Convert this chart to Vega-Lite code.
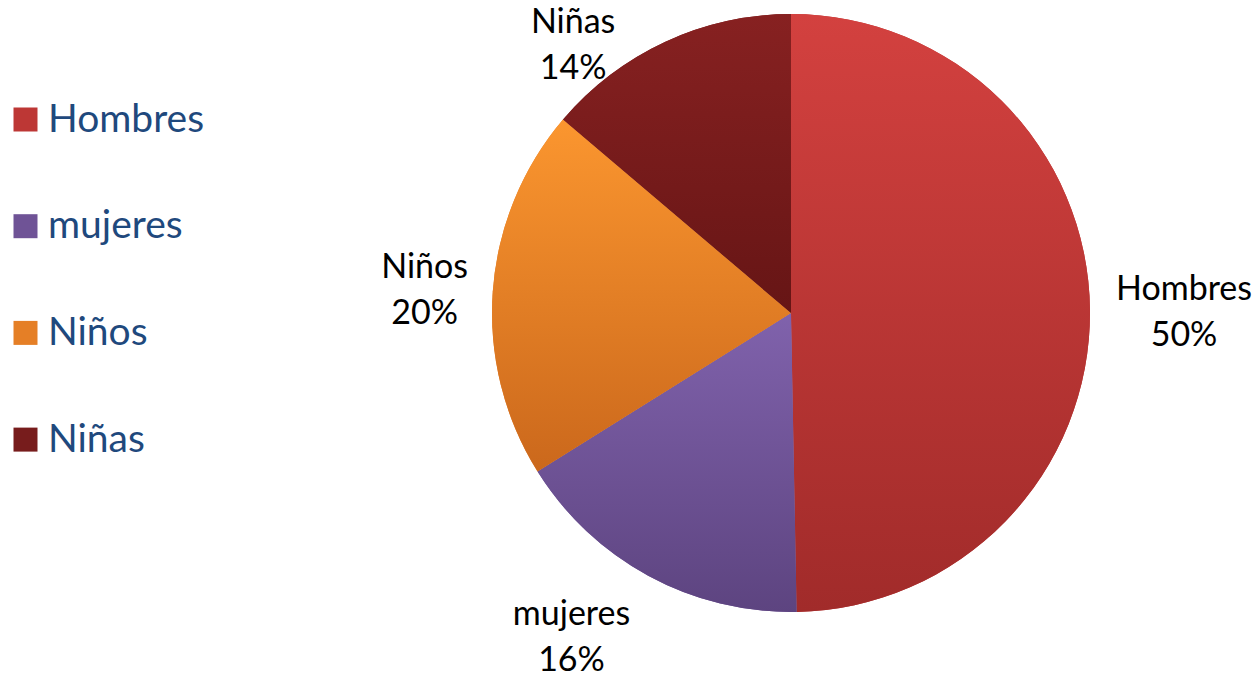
{
  "$schema": "https://vega.github.io/schema/vega-lite/v6.json",
  "width": 932,
  "height": 626,
  "autosize": "none",
  "padding": {"left": 325, "top": 0, "right": 0, "bottom": 52},
  "background": "white",
  "config": {"view": {"stroke": null}},
  "data": {
    "values": [
      {"cat": "Hombres", "value": 49.7, "rank": 1, "label": "Hombres\n50%"},
      {"cat": "mujeres", "value": 16.4, "rank": 2, "label": "mujeres\n16%"},
      {"cat": "Niños", "value": 20.1, "rank": 3, "label": "Niños\n20%"},
      {"cat": "Niñas", "value": 13.8, "rank": 4, "label": "Niñas\n14%"}
    ]
  },
  "encoding": {
    "theta": {"field": "value", "type": "quantitative", "stack": true},
    "order": {"field": "rank", "type": "quantitative", "sort": "ascending"}
  },
  "layer": [
    {
      "mark": {"type": "arc", "outerRadius": 299, "strokeWidth": 0},
      "encoding": {
        "color": {
          "field": "cat",
          "type": "nominal",
          "sort": null,
          "scale": {
            "domain": ["Hombres", "mujeres", "Niños", "Niñas"],
            "range": ["#bd3735", "#6f5396", "#e57f26", "#771c1c"]
          },
          "legend": {
            "orient": "none",
            "legendX": -319,
            "legendY": 100,
            "title": null,
            "symbolType": "square",
            "symbolSize": 576,
            "symbolStrokeWidth": 0,
            "symbolOpacity": 1,
            "labelFont": "Lato",
            "labelFontSize": 39,
            "labelColor": "#1f497d",
            "labelOffset": 3,
            "rowPadding": 66.7,
            "labelLimit": 400
          }
        }
      }
    },
    {
      "mark": {"type": "arc", "outerRadius": 299, "strokeWidth": 0,
        "color": {"gradient": "linear", "x1": 0, "y1": 0, "x2": 0, "y2": 1, "stops": [{"offset": 0, "color": "#d3413f"}, {"offset": 1, "color": "#a12b2a"}]}},
      "encoding": {"opacity": {"condition": {"test": "datum.cat === 'Hombres'", "value": 1}, "value": 0}}
    },
    {
      "mark": {"type": "arc", "outerRadius": 299, "strokeWidth": 0,
        "color": {"gradient": "linear", "x1": 0, "y1": 0, "x2": 0, "y2": 1, "stops": [{"offset": 0, "color": "#8062ac"}, {"offset": 1, "color": "#5d4480"}]}},
      "encoding": {"opacity": {"condition": {"test": "datum.cat === 'mujeres'", "value": 1}, "value": 0}}
    },
    {
      "mark": {"type": "arc", "outerRadius": 299, "strokeWidth": 0,
        "color": {"gradient": "linear", "x1": 0, "y1": 0, "x2": 0, "y2": 1, "stops": [{"offset": 0, "color": "#fb962f"}, {"offset": 1, "color": "#cb681c"}]}},
      "encoding": {"opacity": {"condition": {"test": "datum.cat === 'Niños'", "value": 1}, "value": 0}}
    },
    {
      "mark": {"type": "arc", "outerRadius": 299, "strokeWidth": 0,
        "color": {"gradient": "linear", "x1": 0, "y1": 0, "x2": 0, "y2": 1, "stops": [{"offset": 0, "color": "#872121"}, {"offset": 1, "color": "#661515"}]}},
      "encoding": {"opacity": {"condition": {"test": "datum.cat === 'Niñas'", "value": 1}, "value": 0}}
    },
    {
      "mark": {"type": "text", "radius": 393, "thetaOffset": 0.01, "dy": -23, "font": "Lato", "fontSize": 34, "lineBreak": "\n", "lineHeight": 46, "color": "black", "align": "center", "baseline": "middle"},
      "encoding": {
        "text": {"field": "label", "type": "nominal"},
        "opacity": {"condition": {"test": "datum.cat === 'Hombres'", "value": 1}, "value": 0}
      }
    },
    {
      "mark": {"type": "text", "radius": 392, "thetaOffset": 0.098, "dy": -23, "font": "Lato", "fontSize": 34, "lineBreak": "\n", "lineHeight": 46, "color": "black", "align": "center", "baseline": "middle"},
      "encoding": {
        "text": {"field": "label", "type": "nominal"},
        "opacity": {"condition": {"test": "datum.cat === 'mujeres'", "value": 1}, "value": 0}
      }
    },
    {
      "mark": {"type": "text", "radius": 367, "thetaOffset": -0.012, "dy": -23, "font": "Lato", "fontSize": 34, "lineBreak": "\n", "lineHeight": 46, "color": "black", "align": "center", "baseline": "middle"},
      "encoding": {
        "text": {"field": "label", "type": "nominal"},
        "opacity": {"condition": {"test": "datum.cat === 'Niños'", "value": 1}, "value": 0}
      }
    },
    {
      "mark": {"type": "text", "radius": 345, "thetaOffset": -0.25, "dy": -23, "font": "Lato", "fontSize": 34, "lineBreak": "\n", "lineHeight": 46, "color": "black", "align": "center", "baseline": "middle"},
      "encoding": {
        "text": {"field": "label", "type": "nominal"},
        "opacity": {"condition": {"test": "datum.cat === 'Niñas'", "value": 1}, "value": 0}
      }
    }
  ]
}
